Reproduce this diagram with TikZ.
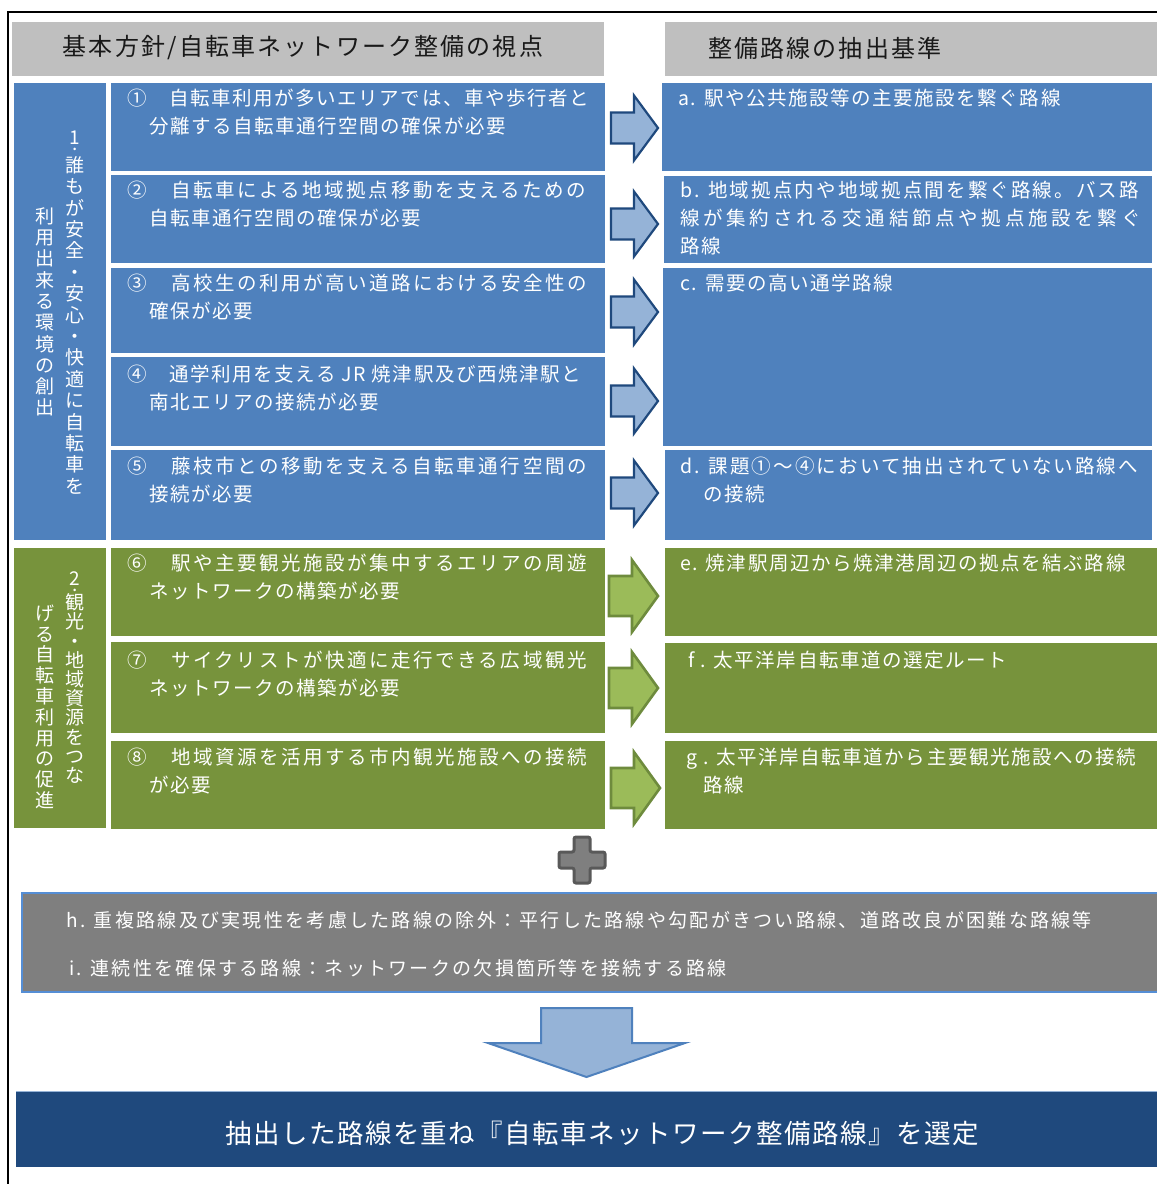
\documentclass[tikz,border=0pt]{standalone}
\usepackage{fontspec}
\setmainfont{Noto Sans CJK JP}
\newfontfamily\jpn{Noto Sans CJK JP}[LetterSpace=8]
\newfontfamily\jpm{Noto Sans CJK JP}[LetterSpace=11]
\newfontfamily\jpw{Noto Sans CJK JP}[LetterSpace=13]
\newfontfamily\jpx{Noto Sans CJK JP}[LetterSpace=19]
\newfontfamily\jpb{Noto Sans CJK JP}[LetterSpace=12]
\newfontfamily\jph{Noto Sans CJK JP}[LetterSpace=9]
\newfontfamily\jpt{Noto Sans CJK JP}[LetterSpace=5.5]
\newfontfamily\jpv{Noto Sans CJK JP}
\definecolor{boxblue}{HTML}{4F81BD}
\definecolor{boxgreen}{HTML}{77933C}
\definecolor{hgray}{HTML}{BFBFBF}
\definecolor{arrowlight}{HTML}{95B3D7}
\definecolor{arrowdark}{HTML}{1F497D}
\definecolor{garrowlight}{HTML}{9BBB59}
\definecolor{garrowdark}{HTML}{6E8B3D}
\definecolor{plusgray}{HTML}{7F7F7F}
\definecolor{plusdark}{HTML}{595959}
\definecolor{bandgray}{HTML}{7F7F7F}
\definecolor{bandline}{HTML}{558ED5}
\definecolor{navy}{HTML}{1F497D}
\newcommand\twoln[3]{\vtop{\baselineskip=28pt\lineskiplimit=-50pt\lineskip=0pt\hbox{#1}\hbox{\hspace*{#2}#3}}}
\newcommand\threeln[3]{\vtop{\baselineskip=28pt\lineskiplimit=-50pt\lineskip=0pt\hbox{#1}\hbox{#2}\hbox{#3}}}
\newcommand\vchar[1]{\hbox to 0pt{\hss#1\hss}}
\newcommand\numdot[2]{#1\llap{\raisebox{#2}{.}\kern2.8pt}}
\begin{document}
\begin{tikzpicture}[x=1pt,y=-1pt,
  rect/.style={anchor=north west, inner sep=0pt, outer sep=0pt, draw=none},
  bbox/.style={rect, fill=boxblue},
  gbox/.style={rect, fill=boxgreen},
  mt/.style={anchor=base west, inner sep=0pt, text=white, font=\fontsize{19.5}{28}\selectfont},
  vt/.style={anchor=base, inner sep=0pt, text=white, font=\fontsize{19}{21}\selectfont\jpv},
  htxt/.style={inner sep=0pt, text=black!90, font=\fontsize{24}{28}\selectfont\jph},
  bt/.style={anchor=base west, inner sep=0pt, text=white, font=\fontsize{19}{24}\selectfont\jpb},
  barrow/.pic={\path[draw=arrowdark, fill=arrowlight, line width=2.2pt, line join=miter]
     (0,-15.5) -- (23,-15.5) -- (23,-32.5) -- (47,0) -- (23,32.5) -- (23,15.5) -- (0,15.5) -- cycle;},
  garrow/.pic={\path[draw=garrowdark, fill=garrowlight, line width=2.6pt, line join=miter]
     (0,-20) -- (23,-20) -- (23,-36) -- (49,0) -- (23,36) -- (23,20) -- (0,20) -- cycle;}
]
\useasboundingbox (0,0) rectangle (1157,1184);
\fill[white] (0,0) rectangle (1157,1184);
% outer frame
\draw[line width=2pt, black] (1160,12) -- (8,12) -- (8,1190);

% headers
\node[rect, fill=hgray, minimum width=592, minimum height=54] (hl) at (12,22) {};
\node[rect, fill=hgray, minimum width=495, minimum height=54] (hr) at (665,22) {};
\node[htxt] (hlt) at (303,48) {基本方針/自転車ネットワーク整備の視点};
\node[htxt, anchor=west] (hrt) at (708,48) {整備路線の抽出基準};

% left column
\node[bbox, minimum width=92, minimum height=457] (c1) at (14,83) {};
\node[gbox, minimum width=92, minimum height=280] (c2) at (14,548) {};
\node[vt] (v1r) at (75,144.5) {\vtop{\baselineskip=21.4pt\lineskiplimit=-50pt\lineskip=0pt
  \vchar{\numdot{1}{-6.4pt}}\vskip6.4pt\vchar{誰}\vchar{も}\vchar{が}\vchar{安}\vchar{全}\vchar{・}\vchar{安}\vchar{心}\vchar{・}\vchar{快}\vchar{適}\vchar{に}\vchar{自}\vchar{転}\vchar{車}\vchar{を}}};
\node[vt] (v1l) at (45,223.2) {\vtop{\baselineskip=21.3pt\lineskiplimit=-50pt\lineskip=0pt
  \vchar{利}\vchar{用}\vchar{出}\vchar{来}\vchar{る}\vchar{環}\vchar{境}\vchar{の}\vchar{創}\vchar{出}}};
\node[vt] (v2r) at (75,585) {\vtop{\baselineskip=19.2pt\lineskiplimit=-50pt\lineskip=0pt
  \vchar{\numdot{2}{-6.7pt}}\vskip5.4pt\vchar{観}\vchar{光}\vchar{・}\vchar{地}\vchar{域}\vchar{資}\vchar{源}\vchar{を}\vchar{つ}\vchar{な}}};
\node[vt] (v2l) at (45,620.2) {\vtop{\baselineskip=20.8pt\lineskiplimit=-50pt\lineskip=0pt
  \vchar{げ}\vchar{る}\vchar{自}\vchar{転}\vchar{車}\vchar{利}\vchar{用}\vchar{の}\vchar{促}\vchar{進}}};

% middle boxes
\node[bbox, minimum width=494, minimum height=88] (m1) at (111,83) {};
\node[bbox, minimum width=494, minimum height=88] (m2) at (111,175) {};
\node[bbox, minimum width=494, minimum height=85] (m3) at (111,268) {};
\node[bbox, minimum width=494, minimum height=89] (m4) at (111,357) {};
\node[bbox, minimum width=494, minimum height=90] (m5) at (111,450) {};
\node[gbox, minimum width=494, minimum height=88] (m6) at (111,548) {};
\node[gbox, minimum width=494, minimum height=91] (m7) at (111,642) {};
\node[gbox, minimum width=494, minimum height=88] (m8) at (111,741) {};

\node[mt] (t1) at (127,105.4) {\twoln{\jpn ①　自転車利用が多いエリアでは、車や歩行者と}{22pt}{\jpn 分離する自転車通行空間の確保が必要}};
\node[mt] (t2) at (127,197.4) {\twoln{\jpw ②　自転車による地域拠点移動を支えるための}{22pt}{\jpn 自転車通行空間の確保が必要}};
\node[mt] (t3) at (127,290.4) {\twoln{\jpw ③　高校生の利用が高い道路における安全性の}{22pt}{\jpn 確保が必要}};
\node[mt] (t4) at (127,381) {\twoln{\jpn ④　通学利用を支える JR 焼津駅及び西焼津駅と}{22pt}{\jpn 南北エリアの接続が必要}};
\node[mt] (t5) at (127,473.4) {\twoln{\jpw ⑤　藤枝市との移動を支える自転車通行空間の}{22pt}{\jpn 接続が必要}};
\node[mt] (t6) at (127,570.4) {\twoln{\jpw ⑥　駅や主要観光施設が集中するエリアの周遊}{22pt}{\jpn ネットワークの構築が必要}};
\node[mt] (t7) at (127,667.4) {\twoln{\jpw ⑦　サイクリストが快適に走行できる広域観光}{22pt}{\jpn ネットワークの構築が必要}};
\node[mt] (t8) at (127,764.4) {\twoln{\jpw ⑧　地域資源を活用する市内観光施設への接続}{22pt}{\jpn が必要}};

% right boxes
\node[bbox, minimum width=490, minimum height=88] (ra) at (662,83) {};
\node[bbox, minimum width=488, minimum height=87] (rb) at (664,176) {};
\node[bbox, minimum width=489, minimum height=178] (rc) at (663,268) {};
\node[bbox, minimum width=487, minimum height=90] (rd) at (665,450) {};
\node[gbox, minimum width=495, minimum height=88] (re) at (665,548) {};
\node[gbox, minimum width=495, minimum height=90] (rf) at (665,643) {};
\node[gbox, minimum width=495, minimum height=88] (rg) at (665,741) {};

\node[mt] (sa) at (678,105.4) {\jpn a. 駅や公共施設等の主要施設を繋ぐ路線};
\node[mt] (sb) at (680,197.4) {\threeln{\jpm b. 地域拠点内や地域拠点間を繋ぐ路線。バス路}{\jpx 線が集約される交通結節点や拠点施設を繋ぐ}{\jpn 路線}};
\node[mt] (sc) at (680,290.4) {\jpn c. 需要の高い通学路線};
\node[mt] (sd) at (680,473.4) {\twoln{\jpm d. 課題①～④において抽出されていない路線へ}{23pt}{\jpn の接続}};
\node[mt] (se) at (680,570.4) {\jpn e. 焼津駅周辺から焼津港周辺の拠点を結ぶ路線};
\node[mt] (sf) at (688,667.4) {\jpn f . 太平洋岸自転車道の選定ルート};
\node[mt] (sg) at (686,764.4) {\twoln{\jpn g . 太平洋岸自転車道から主要観光施設への接続}{17pt}{\jpn 路線}};

% block arrows
\pic at (611,128) {barrow};
\pic at (611,224) {barrow};
\pic at (611,312) {barrow};
\pic at (611,401) {barrow};
\pic at (611,493) {barrow};
\pic at (609,596) {garrow};
\pic at (609,688) {garrow};
\pic at (611,788) {garrow};

% plus sign
\path[draw=plusdark, fill=plusgray, line width=3pt, rounded corners=2pt]
  (574,837) -- (590,837) -- (590,852) -- (605,852) -- (605,868) -- (590,868) -- (590,883)
  -- (574,883) -- (574,868) -- (559,868) -- (559,852) -- (574,852) -- cycle;

% grey band
\node[rect, fill=bandgray, draw=bandline, line width=1.5pt, minimum width=1140, minimum height=99] (band) at (22,893) {};
\node[bt] (bh) at (66,927.2) {h. 重複路線及び実現性を考慮した路線の除外：平行した路線や勾配がきつい路線、道路改良が困難な路線等};
\node[bt] (bi) at (69,975.2) {i. 連続性を確保する路線：ネットワークの欠損箇所等を接続する路線};

% down arrow
\path[draw=boxblue, fill=arrowlight, line width=2pt, line join=miter]
  (541,1008) -- (632,1008) -- (632,1043) -- (685,1043) -- (586.5,1077) -- (488,1043) -- (541,1043) -- cycle;

% bottom box
\node[rect, fill=navy, minimum width=1145, minimum height=76] (fin) at (16,1091) {};
\draw[arrowlight, line width=0.8pt] (fin.north west) -- (fin.north east);
\node[inner sep=0pt, text=white, font=\fontsize{26.5}{30}\selectfont\jpt] (fint) at (602,1133) {抽出した路線を重ね『自転車ネットワーク整備路線』を選定};
\end{tikzpicture}
\end{document}
